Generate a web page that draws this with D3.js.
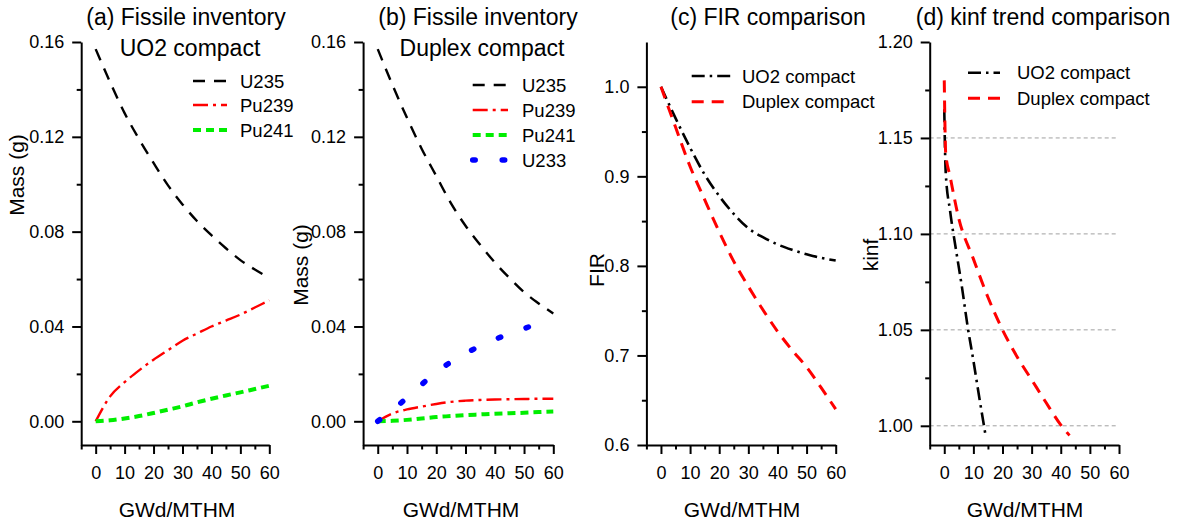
<!DOCTYPE html>
<html><head><meta charset="utf-8">
<script src="https://cdn.jsdelivr.net/npm/d3@7"></script>
<style>
body{margin:0;background:#fff}
svg text{font-family:"Liberation Sans",Arial,Helvetica,sans-serif;fill:#000}
</style>
</head><body>
<svg id="chart" width="1181" height="526"></svg>
<script>
// ---------------- DATA ----------------
const burnup = [0,5,10,15,20,25,30,35,40,45,50,55,60];
const u235UO2  = [0.157,0.143,0.130,0.119,0.109,0.0995,0.0915,0.0845,0.0785,0.073,0.068,0.064,0.0605];
const pu239UO2 = [0,0.0105,0.0165,0.0215,0.026,0.030,0.034,0.037,0.040,0.0425,0.045,0.048,0.051];
const pu241UO2 = [0,0.0004,0.0012,0.0022,0.0035,0.0049,0.0063,0.0080,0.0095,0.0109,0.0122,0.0136,0.015];

const u235Dup  = [0.157,0.142,0.128,0.115,0.1035,0.092,0.0825,0.0745,0.067,0.0605,0.0545,0.0497,0.0455];
const pu239Dup = [0,0.0033,0.0050,0.0062,0.0073,0.0082,0.0087,0.0090,0.0092,0.0093,0.0094,0.0095,0.0095];
const pu241Dup = [0,0.0002,0.0006,0.0012,0.0018,0.0022,0.0026,0.0029,0.0032,0.0034,0.0036,0.0039,0.0041];
const u233Dup  = [0,0.0048,0.0099,0.0155,0.0208,0.025,0.0286,0.0318,0.0345,0.0369,0.0391,0.0413,0.0432];

const firUO2 = [1.0,0.965,0.932,0.902,0.878,0.858,0.842,0.832,0.824,0.818,0.813,0.809,0.806];
const firDup = [1.0,0.955,0.911,0.874,0.838,0.805,0.777,0.751,0.727,0.706,0.687,0.664,0.640];

const kinfBurnupUO2 = [0,0.5,2,4,6,8,10,12,14.3];
const kinfUO2       = [1.165,1.132,1.112,1.092,1.073,1.052,1.034,1.015,0.994];
const kinfBurnupDup = [0,0.5,2,5,10,15,20,25,30,35,40,43];
const kinfDup       = [1.180,1.142,1.130,1.108,1.087,1.067,1.050,1.036,1.024,1.012,1.0005,0.995];

const xMajorTicks = [0,10,20,30,40,50,60];
const xMinorTicks = [-5,5,15,25,35,45,55];
const massMajor = [0,0.04,0.08,0.12,0.16];
const massMinor = [0.02,0.06,0.10,0.14];
const firMajor = [0.6,0.7,0.8,0.9,1.0];
const firMinor = [0.65,0.75,0.85,0.95];
const kinfMajor = [1.00,1.05,1.10,1.15,1.20];
const kinfMinor = [1.025,1.075,1.125,1.175];
const kinfGrid = [1.00,1.05,1.10,1.15];
const xLabel = "GWd/MTHM";

// ---------------- STYLES ----------------
const S = {
  u235:  {color:"#000", dash:"12,9", width:2.4, cap:"butt"},
  pu239: {color:"#ff0000", dash:"15,5,3,5", width:2.4, cap:"butt"},
  pu241: {color:"#00ee00", dash:"8,5", width:4, cap:"butt"},
  u233:  {color:"#0000ff", dash:"2.5,27", width:5.5, cap:"round"},
  uo2:   {color:"#000", dash:"13,5,2.5,5", width:2.6, cap:"butt"},
  dup:   {color:"#ff0000", dash:"12,8", width:3, cap:"butt"}
};

const panels = [
  {x0:81.2, x1:269.3, ydom:[-0.01,0.16], yMajor:massMajor, yMinor:massMinor, fmt:".2f",
   title:["(a) Fissile inventory","UO2 compact"], titleX:[186,190],
   ylabel:"Mass (g)", yl:[24,175], xlx:177,
   leg:{x0:193,x1:227,tx:240,ys:[81,105,130]},
   series:[
     {name:"U235", xs:burnup, ys:u235UO2, st:S.u235},
     {name:"Pu239", xs:burnup, ys:pu239UO2, st:S.pu239},
     {name:"Pu241", xs:burnup, ys:pu241UO2, st:S.pu241}]},
  {x0:363.1, x1:553.3, ydom:[-0.01,0.16], yMajor:massMajor, yMinor:massMinor, fmt:".2f",
   title:["(b) Fissile inventory","Duplex compact"], titleX:[478,482],
   ylabel:"Mass (g)", yl:[308,265], xlx:461,
   leg:{x0:472.7,x1:508,tx:522,ys:[85,110,135,160]},
   series:[
     {name:"U235", xs:burnup, ys:u235Dup, st:S.u235},
     {name:"Pu239", xs:burnup, ys:pu239Dup, st:S.pu239},
     {name:"Pu241", xs:burnup, ys:pu241Dup, st:S.pu241},
     {name:"U233", xs:burnup, ys:u233Dup, st:S.u233}]},
  {x0:646.4, x1:835.7, ydom:[0.6,1.05], yMajor:firMajor, yMinor:firMinor, fmt:".1f",
   title:["(c) FIR comparison"], titleX:[768],
   ylabel:"FIR", yl:[604,270], xlx:742,
   leg:{x0:691.7,x1:731.7,tx:742,ys:[76,101.7]},
   series:[
     {name:"UO2 compact", xs:burnup, ys:firUO2, st:S.uo2},
     {name:"Duplex compact", xs:burnup, ys:firDup, st:S.dup}]},
  {x0:929.7, x1:1119, ydom:[0.99,1.20], yMajor:kinfMajor, yMinor:kinfMinor, fmt:".2f",
   title:["(d) kinf trend comparison"], titleX:[1043],
   ylabel:"kinf", yl:[878,255], xlx:1025, grid:kinfGrid,
   leg:{x0:968,x1:1000,tx:1017,ys:[72.7,98.3]},
   series:[
     {name:"UO2 compact", xs:kinfBurnupUO2, ys:kinfUO2, st:S.uo2},
     {name:"Duplex compact", xs:kinfBurnupDup, ys:kinfDup, st:S.dup}]}
];

// ---------------- DRAW ----------------
const svg = d3.select("#chart");
const yTop = 42, yBot = 445;

panels.forEach(p => {
  const x = d3.scaleLinear().domain([-5,60]).range([p.x0,p.x1]);
  const y = d3.scaleLinear().domain(p.ydom).range([yBot,yTop]);
  const g = svg.append("g");

  if (p.grid) {
    g.selectAll("line.grid").data(p.grid).enter().append("line")
      .attr("x1", x(-5)).attr("x2", x(59.2))
      .attr("y1", d=>y(d)).attr("y2", d=>y(d))
      .attr("stroke","#a0a0a0").attr("stroke-width",1).attr("stroke-dasharray","4,3");
  }

  const xa = g.append("g").attr("transform",`translate(0,${yBot})`)
    .call(d3.axisBottom(x).tickValues(xMajorTicks).tickSize(9).tickSizeOuter(0).tickPadding(12).tickFormat(d3.format("d")));
  const xm = g.append("g").attr("transform",`translate(0,${yBot})`)
    .call(d3.axisBottom(x).tickValues(xMinorTicks).tickSize(4.5).tickSizeOuter(0).tickFormat(""));
  const ya = g.append("g").attr("transform",`translate(${p.x0},0)`)
    .call(d3.axisLeft(y).tickValues(p.yMajor).tickSize(9).tickSizeOuter(0).tickPadding(8).tickFormat(d3.format(p.fmt)));
  const ym = g.append("g").attr("transform",`translate(${p.x0},0)`)
    .call(d3.axisLeft(y).tickValues(p.yMinor).tickSize(4.5).tickSizeOuter(0).tickFormat(""));
  [xa,xm,ya,ym].forEach(a => {
    a.selectAll("path.domain").attr("stroke","#000").attr("stroke-width",2);
    a.selectAll(".tick line").attr("stroke","#000").attr("stroke-width",2);
    a.selectAll("text").attr("font-size",18).attr("font-family",'"Liberation Sans",Arial,sans-serif').attr("fill","#000");
  });
  xm.select("path.domain").remove(); ym.select("path.domain").remove();

  const line = d3.line().x(d=>x(d[0])).y(d=>y(d[1])).curve(d3.curveMonotoneX);
  p.series.forEach(s => {
    const pts = s.xs.map((v,i)=>[v,s.ys[i]]);
    g.append("path").attr("d", line(pts)).attr("fill","none")
      .attr("stroke", s.st.color).attr("stroke-width", s.st.width)
      .attr("stroke-dasharray", s.st.dash).attr("stroke-linecap", s.st.cap);
  });

  p.series.forEach((s,i) => {
    const yy = p.leg.ys[i];
    g.append("line").attr("x1",p.leg.x0).attr("x2",p.leg.x1).attr("y1",yy).attr("y2",yy)
      .attr("stroke", s.st.color).attr("stroke-width", s.st.width)
      .attr("stroke-dasharray", s.st.dash).attr("stroke-linecap", s.st.cap);
    g.append("text").attr("x",p.leg.tx).attr("y",yy+6.5).attr("font-size",18.5).text(s.name);
  });

  p.title.forEach((t,i) => {
    g.append("text").attr("x",p.titleX[i]).attr("y", i===0?25:56)
      .attr("text-anchor","middle").attr("font-size",23).text(t);
  });

  g.append("text").attr("x",p.xlx).attr("y",516.5).attr("text-anchor","middle")
    .attr("font-size",21).text(xLabel);
  g.append("text").attr("transform",`translate(${p.yl[0]},${p.yl[1]}) rotate(-90)`)
    .attr("text-anchor","middle").attr("font-size",21).text(p.ylabel);
});
</script>
</body></html>
